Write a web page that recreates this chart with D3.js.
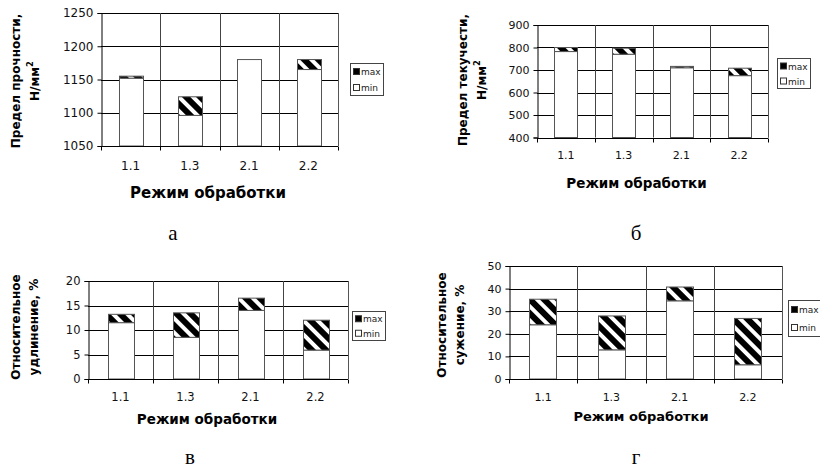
<!DOCTYPE html>
<html><head><meta charset="utf-8">
<script src="https://cdn.jsdelivr.net/npm/d3@7/dist/d3.min.js"></script>
<style>
body{margin:0;background:#fff;}
svg{display:block;}
</style></head>
<body>
<svg id="chart" width="820" height="471"></svg>
<script>
// ---- data ----
const categories = ["1.1", "1.3", "2.1", "2.2"];
const strengthMin = [1152, 1096, 1180, 1165];
const strengthMax = [1155, 1124, 1180, 1180];
const strengthTicks = [1050, 1100, 1150, 1200, 1250];
const yieldMin = [782, 770, 710, 675];
const yieldMax = [800, 797, 716, 708];
const yieldTicks = [400, 500, 600, 700, 800, 900];
const elongMin = [11.5, 8.5, 14.0, 5.9];
const elongMax = [13.2, 13.5, 16.5, 12.0];
const elongTicks = [0, 5, 10, 15, 20];
const narrowMin = [24.0, 12.9, 34.6, 6.3];
const narrowMax = [35.3, 27.9, 40.7, 26.8];
const narrowTicks = [0, 10, 20, 30, 40, 50];
const seriesNames = ["max", "min"];
const xTitle = "Режим обработки";

// ---- layout ----
const panels = [
  {min: strengthMin, max: strengthMax, ticks: strengthTicks,
   x0: 101, x1: 338, yTop: 13, yBot: 146, tickFont: 12,
   yTitle: ["Предел прочности,", "Н/мм"], sup: true, yTitleX: [16, 35], yTitleY: 81, yTitleFont: 12,
   xTitleX: 208, xTitleY: 198, xTitleFont: 15, catY: 170,
   legend: {x: 350, y: 63, w: 33, h: 32},
   letter: "а", letterX: 173, letterY: 240},
  {min: yieldMin, max: yieldMax, ticks: yieldTicks,
   x0: 537, x1: 768, yTop: 25, yBot: 137.5, tickFont: 11,
   yTitle: ["Предел текучести,", "Н/мм"], sup: true, yTitleX: [463, 482], yTitleY: 80, yTitleFont: 12,
   xTitleX: 636.5, xTitleY: 188, xTitleFont: 13.5, catY: 159,
   legend: {x: 777, y: 58, w: 33, h: 30},
   letter: "б", letterX: 636, letterY: 240},
  {min: elongMin, max: elongMax, ticks: elongTicks,
   x0: 88, x1: 348, yTop: 281, yBot: 379, tickFont: 11.5,
   yTitle: ["Относительное", "удлинение, %"], sup: false, yTitleX: [16, 34], yTitleY: 327, yTitleFont: 12,
   xTitleX: 207, xTitleY: 424, xTitleFont: 13.5, catY: 401,
   legend: {x: 352, y: 311, w: 33, h: 29},
   letter: "в", letterX: 190, letterY: 464},
  {min: narrowMin, max: narrowMax, ticks: narrowTicks,
   x0: 509, x1: 782, yTop: 266, yBot: 379, tickFont: 11,
   yTitle: ["Относительное", "сужение, %"], sup: false, yTitleX: [442, 460], yTitleY: 325, yTitleFont: 12,
   xTitleX: 641, xTitleY: 421, xTitleFont: 13, catY: 401,
   legend: {x: 788, y: 300, w: 33, h: 36},
   letter: "г", letterX: 636, letterY: 464}
];

const svg = d3.select("#chart");
const defs = svg.append("defs");
const pat = defs.append("pattern")
  .attr("id", "hatch").attr("patternUnits", "userSpaceOnUse")
  .attr("width", 10).attr("height", 10)
  .attr("patternTransform", "rotate(-45)");
pat.append("rect").attr("width", 10).attr("height", 10).attr("fill", "#000");
pat.append("rect").attr("x", 6).attr("width", 4).attr("height", 10).attr("fill", "#fff");

const sans = "DejaVu Sans, Verdana, sans-serif";

panels.forEach(p => {
  const g = svg.append("g");
  const x = d3.scaleBand().domain(categories).range([p.x0, p.x1]).paddingInner(0.6).paddingOuter(0.3);
  const y = d3.scaleLinear().domain([p.ticks[0], p.ticks[p.ticks.length - 1]]).range([p.yBot, p.yTop]);
  const step = (p.x1 - p.x0) / categories.length;

  // horizontal gridlines
  g.selectAll(".hg").data(p.ticks).join("line")
    .attr("x1", p.x0).attr("x2", p.x1)
    .attr("y1", d => Math.round(y(d)) + 0.5).attr("y2", d => Math.round(y(d)) + 0.5)
    .attr("stroke", "#000").attr("stroke-width", 1);
  // vertical gridlines at category boundaries
  const bounds = d3.range(categories.length + 1).map(i => p.x0 + i * step);
  g.selectAll(".vg").data(bounds.slice(1)).join("line")
    .attr("x1", d => Math.round(d) + 0.5).attr("x2", d => Math.round(d) + 0.5)
    .attr("y1", p.yTop).attr("y2", p.yBot)
    .attr("stroke", "#444").attr("stroke-width", 1);

  // bars: min (white) and max-min (hatched) stacked
  const base = p.ticks[0];
  g.selectAll(".bmin").data(categories).join("rect")
    .attr("x", d => Math.round(x(d)) + 0.5).attr("width", Math.round(x.bandwidth()))
    .attr("y", (d, i) => y(p.min[i])).attr("height", (d, i) => y(base) - y(p.min[i]))
    .attr("fill", "#fff").attr("stroke", "#555").attr("stroke-width", 1);
  g.selectAll(".bmax").data(categories).join("rect")
    .attr("x", d => Math.round(x(d)) + 0.5).attr("width", Math.round(x.bandwidth()))
    .attr("y", (d, i) => y(p.max[i])).attr("height", (d, i) => Math.max(0, y(p.min[i]) - y(p.max[i])))
    .attr("fill", "url(#hatch)").attr("stroke", "#555").attr("stroke-width", 1)
    .attr("display", (d, i) => p.max[i] > p.min[i] ? null : "none");

  // right border
  g.append("line").attr("x1", Math.round(p.x1) + 0.5).attr("x2", Math.round(p.x1) + 0.5)
    .attr("y1", p.yTop).attr("y2", p.yBot).attr("stroke", "#555");

  // y axis
  const yAxis = d3.axisLeft(y).tickValues(p.ticks).tickSize(4).tickPadding(4).tickFormat(d3.format("d"));
  const ya = g.append("g").attr("transform", `translate(${Math.round(p.x0) + 0.5},0)`).call(yAxis);
  ya.select(".domain").attr("stroke", "#000");
  ya.selectAll(".tick line").attr("stroke", "#000");
  ya.selectAll(".tick text").attr("font-family", sans).attr("font-size", p.tickFont).attr("fill", "#111");

  // x axis (drawn over the bars)
  const xa = g.append("g").attr("transform", `translate(0,${Math.round(p.yBot) + 0.5})`);
  xa.append("line").attr("x1", p.x0).attr("x2", p.x1).attr("stroke", "#000");
  xa.selectAll(".xt").data(bounds).join("line")
    .attr("x1", d => Math.round(d) + 0.5).attr("x2", d => Math.round(d) + 0.5)
    .attr("y1", 0).attr("y2", 4).attr("stroke", "#000");
  g.selectAll(".cat").data(categories).join("text")
    .attr("x", d => x(d) + x.bandwidth() / 2).attr("y", p.catY)
    .attr("text-anchor", "middle").attr("font-family", sans).attr("font-size", p.tickFont)
    .attr("fill", "#111").text(d => d);

  // legend
  const L = p.legend;
  const lg = g.append("g");
  lg.append("rect").attr("x", L.x + 0.5).attr("y", L.y + 0.5).attr("width", L.w).attr("height", L.h)
    .attr("fill", "#fff").attr("stroke", "#444");
  const rowGap = L.h / 2;
  seriesNames.forEach((s, i) => {
    const cy = L.y + rowGap * (i + 0.5) + 0.5;
    lg.append("rect").attr("x", L.x + 3.5).attr("y", cy - 3).attr("width", 6).attr("height", 6)
      .attr("fill", s === "max" ? "#000" : "#fff").attr("stroke", "#333");
    lg.append("text").attr("x", L.x + 11).attr("y", cy + 3.5)
      .attr("font-family", sans).attr("font-size", 9).attr("fill", "#222").text(s);
  });

  // y title
  p.yTitle.forEach((line, i) => {
    const t = g.append("text")
      .attr("transform", `translate(${p.yTitleX[i]},${p.yTitleY}) rotate(-90)`)
      .attr("text-anchor", "middle").attr("dominant-baseline", "central")
      .attr("font-family", sans).attr("font-weight", "bold").attr("font-size", p.yTitleFont)
      .attr("fill", "#000");
    t.append("tspan").text(line);
    if (i === 1 && p.sup) {
      t.append("tspan").attr("dy", -5).attr("font-size", p.yTitleFont * 0.7).text("2");
    }
  });

  // x title
  g.append("text").attr("x", p.xTitleX).attr("y", p.xTitleY)
    .attr("text-anchor", "middle").attr("font-family", sans).attr("font-weight", "bold")
    .attr("font-size", p.xTitleFont).attr("fill", "#000").text(xTitle);

  // panel letter
  g.append("text").attr("x", p.letterX).attr("y", p.letterY)
    .attr("text-anchor", "middle").attr("font-family", "Liberation Serif, Times New Roman, serif")
    .attr("font-size", 21).attr("fill", "#000").text(p.letter);
});
</script>
</body></html>
